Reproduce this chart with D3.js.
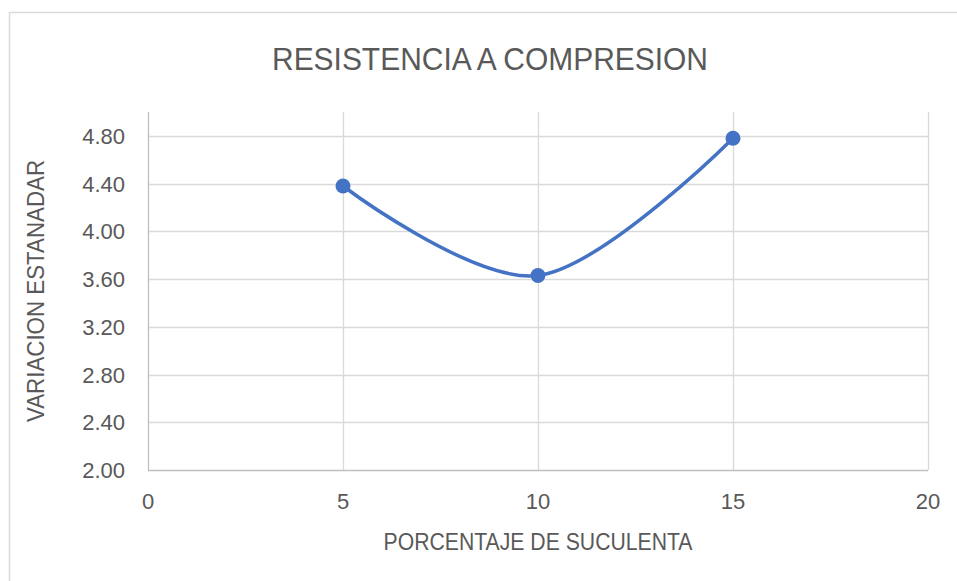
<!DOCTYPE html>
<html lang="es">
<head>
  <meta charset="UTF-8">
  <title>Resistencia a compresion</title>
  <style>
    body { margin: 0; background: #fff; }
    svg text { font-family: "Liberation Sans", Arial, sans-serif; fill: #595959; }
  </style>
</head>
<body>
  <svg id="chart" width="957" height="581"></svg>

  <script src="https://d3js.org/d3.v7.min.js"></script>
  <script>
    // data
    const porcentaje = [5, 10, 15];
    const variacion = [4.38, 3.63, 4.78];
    const xTicks = [0, 5, 10, 15, 20];
    const yTicks = [2.0, 2.4, 2.8, 3.2, 3.6, 4.0, 4.4, 4.8];

    const svg = d3.select('#chart');
    const margin = { left: 148, right: 29, top: 112, bottom: 111 };
    const width = +svg.attr('width');
    const height = +svg.attr('height');

    const x = d3.scaleLinear().domain([0, 20]).range([margin.left, width - margin.right]);
    const y = d3.scaleLinear().domain([2, 5]).range([height - margin.bottom, margin.top]);

    // chart border (only top and left show in the crop)
    svg.append('path')
      .attr('d', `M9.5,${height} V12.5 H${width}`)
      .attr('fill', 'none')
      .attr('stroke', '#d9d9d9')
      .attr('stroke-width', 1.5);

    // horizontal grid
    svg.append('g')
      .selectAll('line')
      .data(yTicks.slice(1))
      .join('line')
      .attr('x1', x(0)).attr('x2', x(20))
      .attr('y1', d => Math.round(y(d)) + 0.5).attr('y2', d => Math.round(y(d)) + 0.5)
      .attr('stroke', '#d9d9d9').attr('stroke-width', 1.3);

    // vertical grid
    svg.append('g')
      .selectAll('line')
      .data(xTicks.slice(1))
      .join('line')
      .attr('x1', d => Math.round(x(d)) + 0.5).attr('x2', d => Math.round(x(d)) + 0.5)
      .attr('y1', y(5)).attr('y2', y(2))
      .attr('stroke', '#d9d9d9').attr('stroke-width', 1.3);

    // axes lines
    svg.append('line')
      .attr('x1', x(0) + 0.5).attr('x2', x(0) + 0.5)
      .attr('y1', y(5)).attr('y2', y(2))
      .attr('stroke', '#bfbfbf').attr('stroke-width', 1.3);
    svg.append('line')
      .attr('x1', x(0)).attr('x2', x(20))
      .attr('y1', y(2) + 0.5).attr('y2', y(2) + 0.5)
      .attr('stroke', '#bfbfbf').attr('stroke-width', 1.3);

    // tick labels
    svg.append('g')
      .selectAll('text')
      .data(yTicks)
      .join('text')
      .attr('x', x(0) - 23)
      .attr('y', d => y(d) + 8)
      .attr('text-anchor', 'end')
      .attr('font-size', '22px')
      .text(d => d.toFixed(2));

    svg.append('g')
      .selectAll('text')
      .data(xTicks)
      .join('text')
      .attr('x', d => x(d))
      .attr('y', y(2) + 39)
      .attr('text-anchor', 'middle')
      .attr('font-size', '22px')
      .text(d => d);

    // titles
    svg.append('text')
      .attr('x', 490).attr('y', 70)
      .attr('text-anchor', 'middle')
      .attr('font-size', '31px')
      .attr('textLength', 436).attr('lengthAdjust', 'spacingAndGlyphs')
      .text('RESISTENCIA A COMPRESION');

    svg.append('text')
      .attr('x', (x(0) + x(20)) / 2).attr('y', 550)
      .attr('text-anchor', 'middle')
      .attr('font-size', '24px')
      .attr('textLength', 309).attr('lengthAdjust', 'spacingAndGlyphs')
      .text('PORCENTAJE DE SUCULENTA');

    svg.append('text')
      .attr('transform', `translate(44,${(y(2) + y(5)) / 2}) rotate(-90)`)
      .attr('text-anchor', 'middle')
      .attr('font-size', '24px')
      .attr('textLength', 262).attr('lengthAdjust', 'spacingAndGlyphs')
      .text('VARIACION ESTANADAR');

    // smoothed line + markers
    const pts = porcentaje.map((p, i) => [p, variacion[i]]);
    const line = d3.line()
      .x(d => x(d[0]))
      .y(d => y(d[1]))
      .curve(d3.curveCardinal.tension(0));

    svg.append('path')
      .datum(pts)
      .attr('d', line)
      .attr('fill', 'none')
      .attr('stroke', '#4472c4')
      .attr('stroke-width', 3.5)
      .attr('stroke-linecap', 'round');

    svg.append('g')
      .selectAll('circle')
      .data(pts)
      .join('circle')
      .attr('cx', d => x(d[0]))
      .attr('cy', d => y(d[1]))
      .attr('r', 7.5)
      .attr('fill', '#4472c4');
  </script>
</body>
</html>
